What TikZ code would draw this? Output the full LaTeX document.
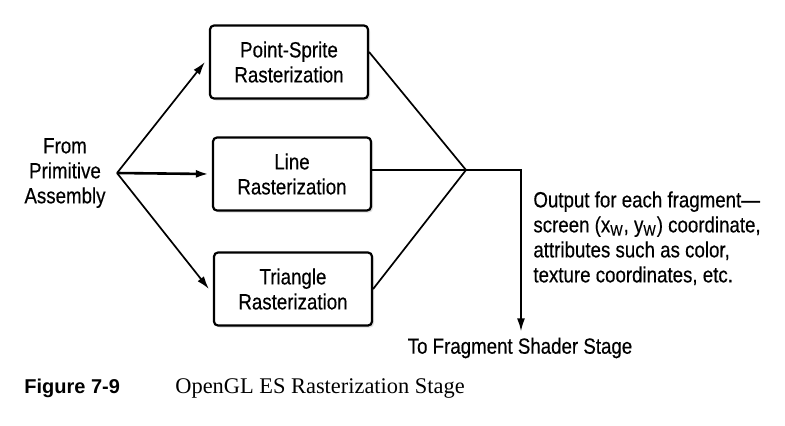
\documentclass[tikz,border=0pt]{standalone}
\usepackage{fontspec}
\setmainfont{Liberation Serif}
\newfontfamily\condsans[FakeStretch=0.85,FakeBold=0.4]{Liberation Sans}
\newfontfamily\capsans{Liberation Sans}
\usetikzlibrary{arrows.meta,shadows}

\begin{document}
\begin{tikzpicture}[x=0.5pt,y=-0.5pt,
        every node/.style={font=\condsans\fontsize{11}{12.5}\selectfont, inner sep=0pt}, % pixel grid
        stagebox/.style={draw, rounded corners=2pt, line width=1.1pt, fill=white,
            minimum width=79pt, minimum height=36.5pt, align=center,
            drop shadow={shadow xshift=1pt, shadow yshift=-1pt, opacity=0.25}},
        flow/.style={line width=0.85pt, -{Latex[length=6.5pt,width=4pt]}},
        link/.style={line width=0.85pt}
    ]
        \useasboundingbox (0,0) rectangle (785,425);

        % source and fork
        \node[align=center] (source) at (65,173) {From\\Primitive\\Assembly};
        \coordinate (fork) at (117,173);

        % rasterization stages
        \node[stagebox] (point) at (289,62) {Point-Sprite\\Rasterization};
        \node[stagebox] (line) at (292,174) {Line\\Rasterization};
        \node[stagebox] (tri) at (293,289) {Triangle\\Rasterization};

        \draw[flow] (fork) -- ([xshift=-2pt]point.west);
        \draw[flow, line width=1.3pt] (fork) -- ([xshift=-1.5pt]line.west);
        \draw[flow] (fork) -- ([xshift=-2pt]tri.west);

        % merge and output
        \coordinate (merge) at (466,170);
        \coordinate (corner) at (521,170);
        \node (shader) at (520,348) {To Fragment Shader Stage};
        \node[anchor=north west, align=left] (output) at (533,191)
            {Output for each fragment—\\screen (x\textsubscript{W}, y\textsubscript{W}) coordinate,\\attributes such as color,\\texture coordinates, etc.};

        \draw[link] ([yshift=5pt]point.east) -- (merge);
        \draw[link] ([yshift=2pt]line.east) -- (merge);
        \draw[link] (tri.east) -- (merge);
        \draw[flow] (merge) -- (corner) -- ([yshift=3pt]shader.north -| corner);

        % caption
        \node[anchor=base west, font=\capsans\bfseries\fontsize{10}{12}\selectfont] (fignum) at (24,393) {Figure 7-9};
        \node[anchor=base west, font=\rmfamily\fontsize{11.2}{13}\selectfont] (figtitle) at (175,393) {OpenGL ES Rasterization Stage};
    \end{tikzpicture}
\end{document}
